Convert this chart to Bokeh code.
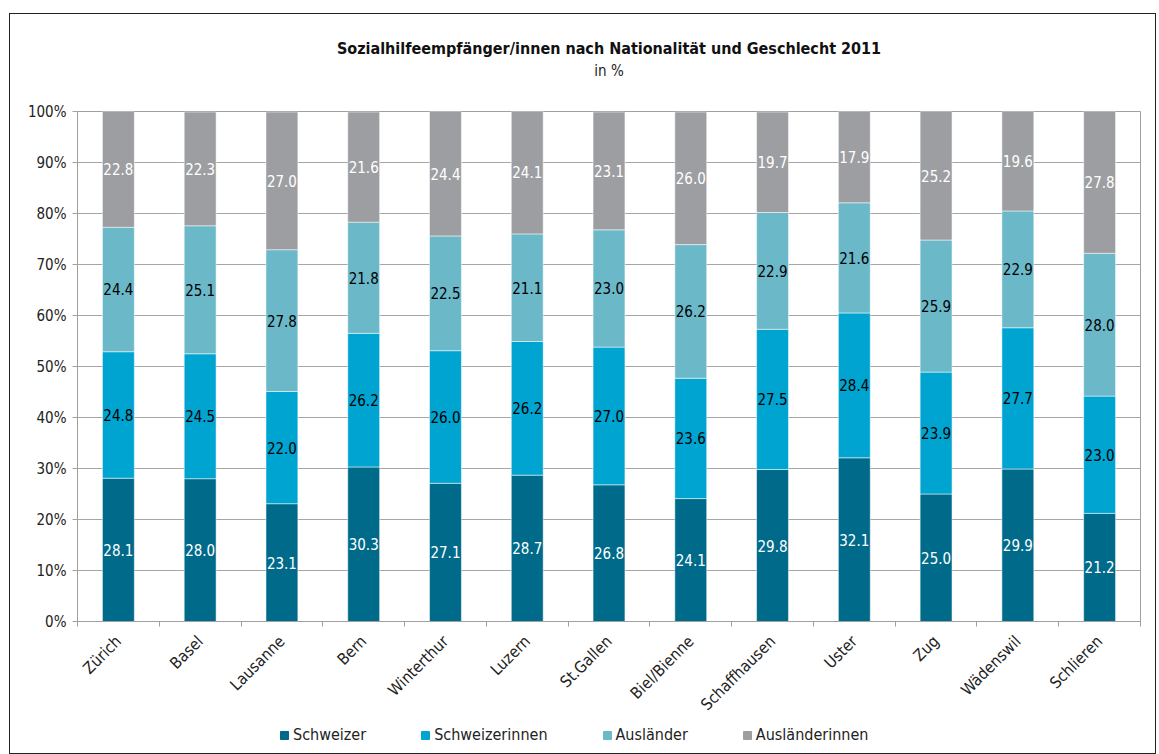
import math
from bokeh.plotting import figure
from bokeh.layouts import column
from bokeh.models import (ColumnDataSource, FixedTicker, Legend, LegendItem, Title,
                          Range1d)
from bokeh.core.properties import value
from bokeh.embed import file_html
from bokeh.resources import INLINE

cities = ["Zürich", "Basel", "Lausanne", "Bern", "Winterthur", "Luzern", "St.Gallen",
          "Biel/Bienne", "Schaffhausen", "Uster", "Zug", "Wädenswil", "Schlieren"]
schweizer = [28.1, 28.0, 23.1, 30.3, 27.1, 28.7, 26.8, 24.1, 29.8, 32.1, 25.0, 29.9, 21.2]
schweizerinnen = [24.8, 24.5, 22.0, 26.2, 26.0, 26.2, 27.0, 23.6, 27.5, 28.4, 23.9, 27.7, 23.0]
auslaender = [24.4, 25.1, 27.8, 21.8, 22.5, 21.1, 23.0, 26.2, 22.9, 21.6, 25.9, 22.9, 28.0]
auslaenderinnen = [22.8, 22.3, 27.0, 21.6, 24.4, 24.1, 23.1, 26.0, 19.7, 17.9, 25.2, 19.6, 27.8]
y_ticks = [0, 10, 20, 30, 40, 50, 60, 70, 80, 90, 100]

series_names = ["Schweizer", "Schweizerinnen", "Ausländer", "Ausländerinnen"]
series_vals = [schweizer, schweizerinnen, auslaender, auslaenderinnen]
colors = ["#006A8A", "#00A4D1", "#6BB8C9", "#9D9EA1"]
label_colors = ["#FFFFFF", "#000000", "#000000", "#FFFFFF"]

FONT = "DejaVu Sans Condensed, Roboto, sans-serif"

xs = list(range(1, len(cities) + 1))
data = {"x": xs}
for name, vals in zip(series_names, series_vals):
    data[name] = vals
src = ColumnDataSource(data)

p = figure(frame_width=1063, frame_height=510, output_backend="svg", toolbar_location=None,
           x_range=Range1d(0.5, len(cities) + 0.5), y_range=Range1d(0, 100),
           min_border_left=67, min_border_right=15, min_border_top=97,
           min_border_bottom=102, background_fill_color="white",
           border_fill_color="white", outline_line_color="#A0A0A0")

renderers = p.vbar_stack(series_names, x="x", width=0.39, color=colors, source=src,
                         line_color="white", line_width=0.5)

# data labels
cum = [0.0] * len(cities)
for vals, lc in zip(series_vals, label_colors):
    mids = [c + v / 2 for c, v in zip(cum, vals)]
    cum = [c + v for c, v in zip(cum, vals)]
    lsrc = ColumnDataSource({"x": xs, "y": mids, "t": ["%.1f" % v for v in vals]})
    p.text(x="x", y="y", text="t", source=lsrc, text_align="center",
           text_baseline="middle", text_color=lc, text_font=value(FONT),
           text_font_size="15px")

# axes
p.yaxis.ticker = FixedTicker(ticks=y_ticks)
p.yaxis.major_label_overrides = {v: f"{v}%" for v in y_ticks}
p.yaxis.axis_line_color = "#A0A0A0"
p.yaxis.major_tick_line_color = "#A0A0A0"
p.yaxis.major_tick_out = 5
p.yaxis.major_tick_in = 0
p.yaxis.minor_tick_line_color = None
p.yaxis.major_label_text_font = FONT
p.yaxis.major_label_text_font_size = "15px"
p.yaxis.major_label_text_color = "#222222"
p.yaxis.major_label_standoff = 6

p.xaxis.ticker = FixedTicker(ticks=xs, minor_ticks=[i + 0.5 for i in range(0, len(cities) + 1)])
p.xaxis.major_label_overrides = {x: c for x, c in zip(xs, cities)}
p.xaxis.major_label_orientation = math.pi / 4
p.xaxis.major_tick_line_color = None
p.xaxis.minor_tick_line_color = "#A0A0A0"
p.xaxis.minor_tick_out = 5
p.xaxis.minor_tick_in = 0
p.xaxis.axis_line_color = "#A0A0A0"
p.xaxis.major_label_text_font = FONT
p.xaxis.major_label_text_font_size = "16px"
p.xaxis.major_label_text_color = "#222222"
p.xaxis.major_label_standoff = 11

p.xgrid.grid_line_color = None
p.ygrid.grid_line_color = "#A6A6A6"
p.ygrid.grid_line_width = 1

# titles
p.add_layout(Title(text="in %", align="center", text_font=FONT, text_font_size="15px",
                   text_font_style="normal", text_color="#222222", standoff=63), "above")
p.add_layout(Title(text="Sozialhilfeempfänger/innen nach Nationalität und Geschlecht 2011",
                   align="center", text_font=FONT, text_font_size="16px",
                   text_font_style="bold", text_color="#111111", standoff=-59), "above")

# legend strip below the chart (keys come from the same data, kept out of view)
leg_fig = figure(width=1145, height=30, output_backend="svg", toolbar_location=None,
                 x_axis_type=None, y_axis_type=None,
                 x_range=Range1d(100, 101), y_range=Range1d(1000, 1001), min_border=0,
                 outline_line_color=None, background_fill_color="white",
                 border_fill_color="white")
leg_fig.grid.visible = False
keys = leg_fig.vbar_stack(series_names, x="x", width=0.39, color=colors, source=src)
legend = Legend(items=[LegendItem(label=n, renderers=[r]) for n, r in zip(series_names, keys)],
                orientation="horizontal", location=(202, 9), border_line_color=None,
                background_fill_alpha=0, label_text_font=FONT,
                label_text_font_size="16px", label_text_color="#222222",
                glyph_width=10, glyph_height=10, spacing=54, label_standoff=4,
                margin=0, padding=0)
leg_fig.add_layout(legend, "center")

layout = column(p, leg_fig, spacing=0,
                styles={"border": "1px solid #222", "margin-top": "13px", "margin-left": "9px"})

open("out.html", "w").write(file_html(layout, INLINE))
